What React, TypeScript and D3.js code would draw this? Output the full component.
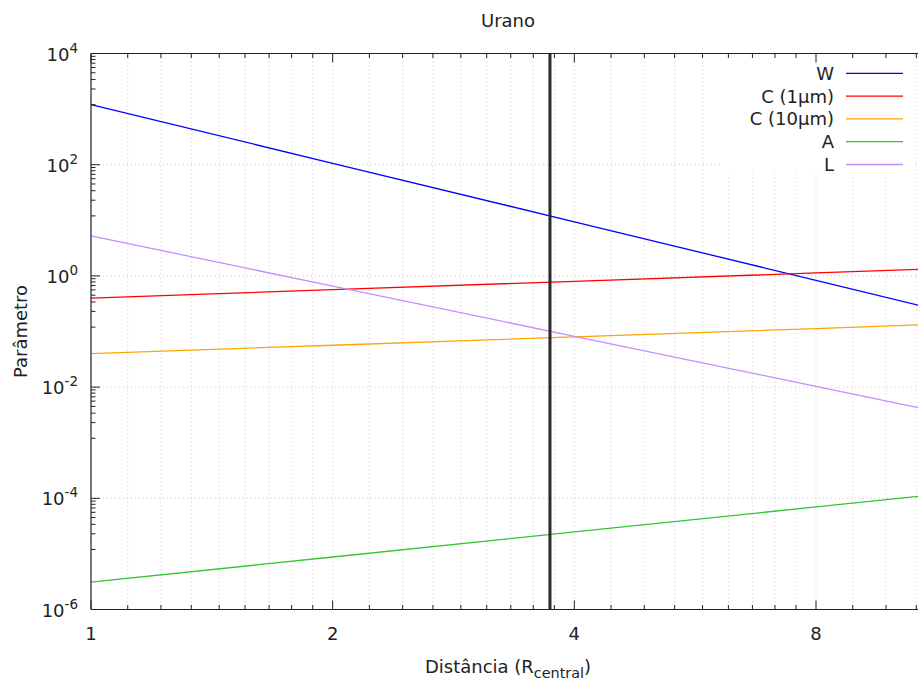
import React from "react";
import * as d3 from "d3";

const distances = [1, 2, 4, 8, 11];
const seriesNames = ["W", "C (1µm)", "C (10µm)", "A", "L"];
const seriesColors = ["#0000ff", "#ff0000", "#ffa500", "#33c433", "#c48cff"];
const wValues = [1200, 106, 9.4, 0.83, 0.272];
const c1Values = [0.4, 0.566, 0.8, 1.13, 1.33];
const c10Values = [0.04, 0.0566, 0.08, 0.113, 0.133];
const aValues = [3.1e-6, 8.8e-6, 2.48e-5, 7.0e-5, 1.13e-4];
const lValues = [5.25, 0.656, 0.082, 0.0103, 0.00394];
const limitDistance = 3.73;
const xTickValues = [1, 2, 4, 8, 16];
const xTickLabels = ["1", "2", "4", "8", "16"];
const yTickExponents = [4, 2, 0, -2, -4, -6];

const W = 918;
const H = 682;
const FONT = "DejaVu Sans, sans-serif";
const FS = 18;

export default function App() {
  const left = 91;
  const top = 53.5;
  const bottom = 609.5;
  const right = W;
  const x = d3.scaleLog().base(2).domain([1, 8]).range([left, 816]);
  const y = d3.scaleLog().domain([1e-6, 1e4]).range([bottom, top]);

  const allSeries = [wValues, c1Values, c10Values, aValues, lValues];
  const line = d3
    .line<[number, number]>()
    .x((d) => x(d[0]))
    .y((d) => y(d[1]));

  const xMinor: number[] = [];
  for (let i = 0; i < xTickValues.length - 1; i++) {
    const a = xTickValues[i];
    const b = xTickValues[i + 1];
    for (let j = 1; j <= 8; j++) xMinor.push(a + ((b - a) * j) / 9);
  }
  const yMajor = yTickExponents.map((e) => Math.pow(10, e));
  const yMinor: number[] = [];
  for (let i = 0; i < yMajor.length - 1; i++) {
    const hi = yMajor[i];
    const lo = yMajor[i + 1];
    for (let j = 1; j <= 8; j++) yMinor.push(lo + ((hi - lo) * j) / 9);
  }

  const inX = (v: number) => x(v) >= left - 0.5 && x(v) <= right;
  const gridColor = "#c8c8c8";
  const axisColor = "#222";

  const legendTop = 73.3;
  const legendStep = 22.8;

  return (
    <div style={{ position: "absolute", left: 0, top: 0 }}>
      <svg width={W} height={H} style={{ display: "block", background: "#fff" }} fontFamily={FONT}>
        <rect x={0} y={0} width={W} height={H} fill="#fff" />
        {[...xTickValues, ...xMinor].filter(inX).map((v, i) => (
          <line key={"gx" + i} x1={x(v)} x2={x(v)} y1={top} y2={bottom} stroke={gridColor} strokeWidth={1} strokeDasharray="1,3" />
        ))}
        {yMajor.map((v, i) => (
          <line key={"gy" + i} x1={left} x2={right} y1={y(v)} y2={y(v)} stroke={gridColor} strokeWidth={1} strokeDasharray="1,3" />
        ))}
        <rect x={722} y={top + 1} width={193} height={119} fill="#fff" />
        {allSeries.map((vals, si) => (
          <path
            key={"s" + si}
            d={line(distances.map((d, i) => [d, vals[i]] as [number, number])) || ""}
            fill="none"
            stroke={seriesColors[si]}
            strokeWidth={1.3}
          />
        ))}
        <line x1={x(limitDistance)} x2={x(limitDistance)} y1={top} y2={bottom} stroke="#2a2a2a" strokeWidth={3} />
        <line x1={left} x2={right} y1={top} y2={top} stroke={axisColor} strokeWidth={1.2} />
        <line x1={left} x2={right} y1={bottom} y2={bottom} stroke={axisColor} strokeWidth={1.2} />
        <line x1={left} x2={left} y1={top} y2={bottom} stroke={axisColor} strokeWidth={1.2} />
        {xTickValues.filter(inX).map((v, i) => (
          <g key={"xt" + i}>
            <line x1={x(v)} x2={x(v)} y1={bottom} y2={bottom - 9} stroke={axisColor} />
            <line x1={x(v)} x2={x(v)} y1={top} y2={top + 9} stroke={axisColor} />
            <text x={x(v)} y={640} fontSize={FS} textAnchor="middle" fill="#222">
              {xTickLabels[i]}
            </text>
          </g>
        ))}
        {xMinor.filter(inX).map((v, i) => (
          <g key={"xm" + i}>
            <line x1={x(v)} x2={x(v)} y1={bottom} y2={bottom - 4.5} stroke={axisColor} />
            <line x1={x(v)} x2={x(v)} y1={top} y2={top + 4.5} stroke={axisColor} />
          </g>
        ))}
        {yMajor.map((v, i) => (
          <g key={"yt" + i}>
            <line x1={left} x2={left + 9} y1={y(v)} y2={y(v)} stroke={axisColor} />
            <text x={78} y={y(v) + 7} fontSize={FS} textAnchor="end" fill="#222">
              10
              <tspan fontSize={13.5} dy={-8}>
                {String(yTickExponents[i])}
              </tspan>
            </text>
          </g>
        ))}
        {yMinor.map((v, i) => (
          <line key={"ym" + i} x1={left} x2={left + 4.5} y1={y(v)} y2={y(v)} stroke={axisColor} />
        ))}
        {seriesNames.map((n, i) => (
          <g key={"lg" + i}>
            <text x={834} y={legendTop + i * legendStep + 6.5} fontSize={FS} textAnchor="end" fill="#222">
              {n}
            </text>
            <line x1={846} x2={903} y1={legendTop + i * legendStep} y2={legendTop + i * legendStep} stroke={seriesColors[i]} strokeWidth={1.3} />
          </g>
        ))}
        <text x={508} y={26.5} fontSize={FS} textAnchor="middle" fill="#222">
          Urano
        </text>
        <text x={508} y={673} fontSize={FS} textAnchor="middle" fill="#222">
          Distância (R
          <tspan fontSize={14.4} dy={5}>central</tspan>
          <tspan dy={-5}>)</tspan>
        </text>
        <text transform={`translate(27, ${(top + bottom) / 2}) rotate(-90)`} fontSize={FS} textAnchor="middle" fill="#222">
          Parâmetro
        </text>
      </svg>
    </div>
  );
}
